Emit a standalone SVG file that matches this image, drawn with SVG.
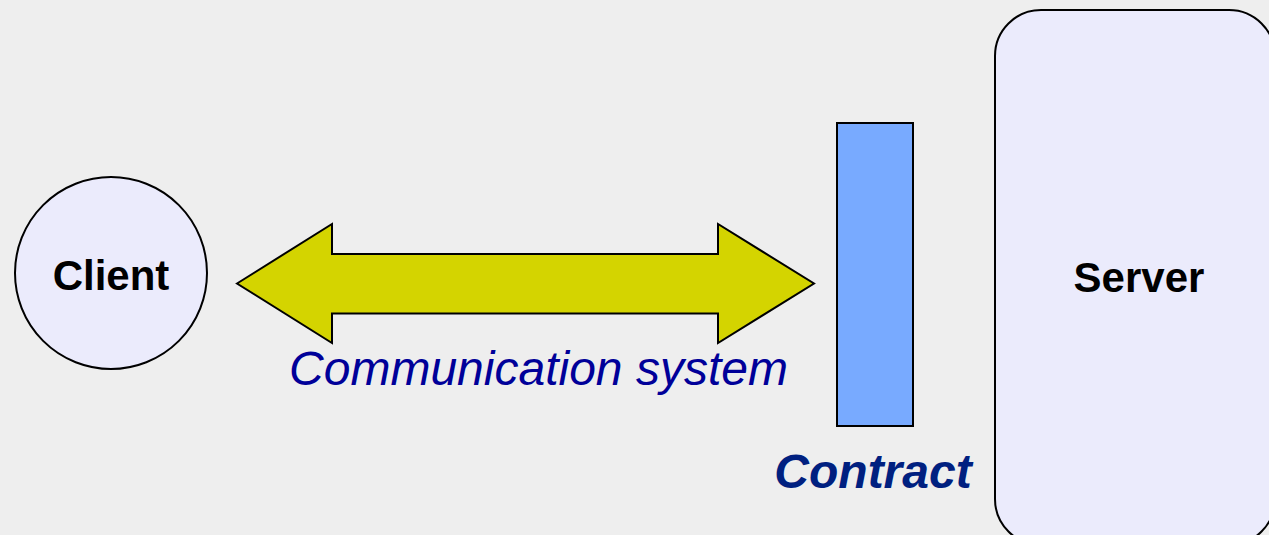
<svg xmlns="http://www.w3.org/2000/svg" width="1269" height="535" viewBox="0 0 1269 535">
<style>
.shape{stroke:#000;stroke-width:2}
.lbl{font-family:"Liberation Sans",Arial,sans-serif;font-weight:bold;font-size:42px;fill:#000;text-anchor:middle}
.cap{font-family:"Liberation Sans",Arial,sans-serif;font-style:italic;font-size:48px}
</style>
<rect x="0" y="0" width="1269" height="535" fill="#eeeeee"/>
<g id="connectors">
<g id="comm">
<polygon class="shape" fill="#d4d400" points="237,283.5 332,224 332,254 718,254 718,224 814,283.5 718,343 718,313.5 332,313.5 332,343"/>
<text class="cap" x="538.5" y="385" fill="#000099" text-anchor="middle">Communication system</text>
</g>
</g>
<g id="client">
<circle class="shape" cx="111" cy="273" r="96" fill="#ebebfc"/>
<text class="lbl" x="111" y="290">Client</text>
</g>
<g id="contract">
<rect class="shape" x="837" y="123" width="76" height="303" fill="#78aaff"/>
<text class="cap" x="873" y="488" fill="#002080" font-weight="bold" text-anchor="middle">Contract</text>
</g>
<g id="server">
<rect class="shape" x="995" y="10" width="280" height="535" rx="46" ry="46" fill="#ebebfc"/>
<text class="lbl" x="1139" y="292">Server</text>
</g>
</svg>
